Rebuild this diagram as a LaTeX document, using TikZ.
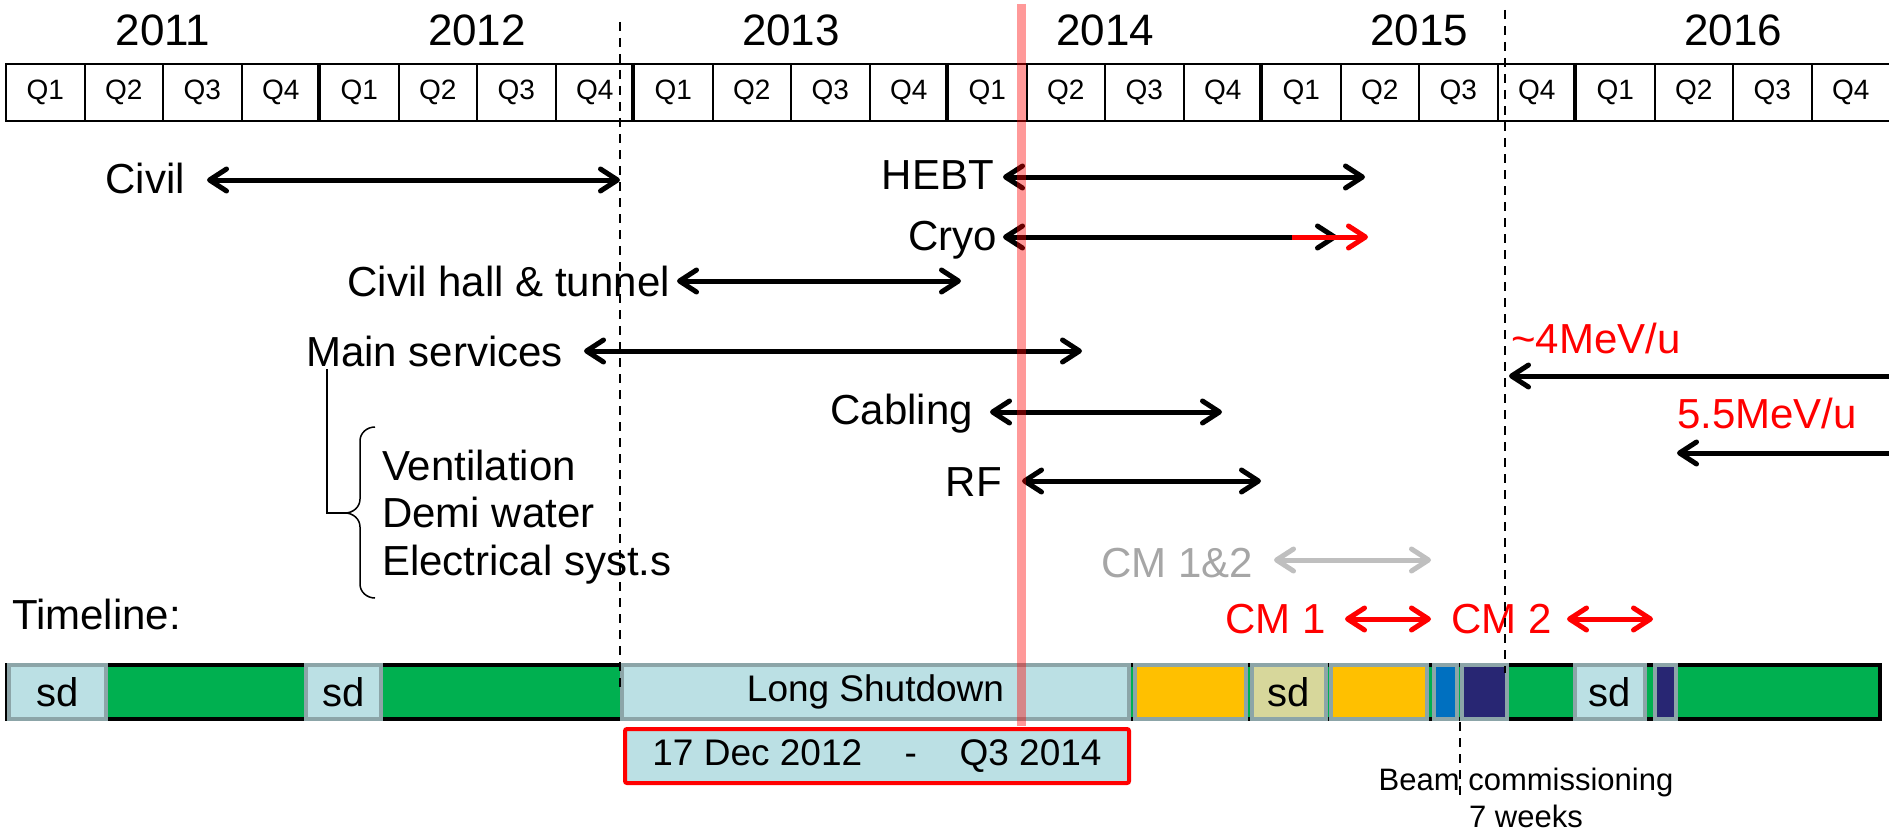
\documentclass[tikz,border=0pt]{standalone}
\usepackage{fontspec}
\setmainfont{Liberation Sans}
\usetikzlibrary{arrows.meta,positioning}
\definecolor{sdblue}{RGB}{187,224,228}
\definecolor{sdedge}{RGB}{140,165,168}
\definecolor{runGreen}{RGB}{0,176,80}
\definecolor{sdkhaki}{RGB}{215,215,155}
\definecolor{prepOrange}{RGB}{255,192,0}
\definecolor{beamBlue}{RGB}{0,112,192}
\definecolor{beamNavy}{RGB}{40,38,115}
\definecolor{cmGrey}{RGB}{191,191,191}
\definecolor{cmGreyText}{RGB}{166,166,166}
\begin{document}
\begin{tikzpicture}[x=1pt, y=-1pt, >={Straight Barb[length=17pt,width=22pt,round]}]
	\tikzstyle{lbl}     = [inner sep=0pt, text height=30pt, text depth=0pt, font=\fontsize{42}{50}\selectfont]
	\tikzstyle{yearlbl} = [inner sep=0pt, font=\fontsize{44}{52}\selectfont]
	\tikzstyle{qcell}   = [draw, line width=2pt, minimum width=78.5pt, minimum height=57pt, inner sep=0pt, font=\fontsize{28}{32}\selectfont]
	\tikzstyle{both}    = [line width=5pt, <->]
	\tikzstyle{fwd}     = [line width=5pt, ->]
	\tikzstyle{guide}   = [line width=2pt, dash pattern=on 9pt off 7pt]
	\tikzstyle{seg}     = [draw=sdedge, line width=4pt, minimum height=54pt, inner sep=0pt, font=\fontsize{40}{48}\selectfont]

	\useasboundingbox (0,0) rectangle (1889,832);
%	\draw[step=100, gray!50] (0,0) grid (1889,832);

	% quarters and years
	\foreach \i in {0,...,23} {
		\pgfmathtruncatemacro{\q}{mod(\i,4)+1}
		\node[qcell] (q\i) at (45.25+78.5*\i, 92.5) {Q\q};
	}
	\foreach \i in {4,8,...,20}
		\draw[line width=4pt] (q\i.north west) -- (q\i.south west);
	\foreach \yr [count=\k from 0] in {2011,...,2016}
		\node[yearlbl] (y\yr) at (163+314*\k, 30) {\yr};

	% work packages
	\foreach \name/\txt/\tx/\ty/\xa/\xb/\ay in {civil/Civil/185/178/207/620/180, hebt/HEBT/994/174/1003/1365/177, cryo/Cryo/997/235/1003/1337/237, hall/{Civil hall \& tunnel}/670/281/677/961/281, mainsvc/{Main services}/563/351/584/1082/351, cabling/Cabling/973/409/990/1222/412, rf/RF/1002/481/1022/1261/481} {
		\node[lbl, anchor=east] (\name) at (\tx,\ty) {\txt};
		\coordinate (\name-a) at (\xa,\ay);
		\coordinate (\name-b) at (\xb,\ay);
		\draw[both] (\name-a) -- (\name-b);
	}
	\coordinate (cryo-r) at (1292,237);
	\coordinate (cryo-c) at (1368,237);
	\draw[fwd, red] (cryo-r) -- (cryo-c);

	% services brace
	\coordinate (bracetip) at (345,513);
	\draw[line width=1.5pt] ([xshift=21pt,yshift=-3pt]mainsvc.south west) |- (bracetip);
	\draw[line width=1.5pt] (375,427) to[out=180,in=90] (360,441) -- (360,499) to[out=-90,in=0] (bracetip)
		to[out=0,in=90] (360,527) -- (360,584) to[out=-90,in=180] (375,598);
	\foreach \name/\txt/\y in {vent/Ventilation/465, demi/{Demi water}/512, elec/{Electrical syst.s}/560}
		\node[lbl, anchor=west] (\name) at (382,\y) {\txt};

	\node[lbl, anchor=west] (timeline) at (12,614) {Timeline:};

	% energies
	\node[lbl, anchor=west, red] (mev4) at (1511,338) {\textasciitilde 4MeV/u};
	\coordinate (mev4-a) at (1509,376);
	\coordinate (mev4-b) at (1900,376);
	\draw[fwd] (mev4-b) -- (mev4-a);
	\node[lbl, anchor=west, red] (mev55) at (1677,413) {5.5MeV/u};
	\coordinate (mev55-a) at (1677,453);
	\coordinate (mev55-b) at (1900,453);
	\draw[fwd] (mev55-b) -- (mev55-a);

	% cryomodules
	\node[lbl, anchor=east, cmGreyText] (cm12) at (1253,562) {CM 1\&2};
	\coordinate (cm12-a) at (1274,560);
	\coordinate (cm12-b) at (1431,560);
	\draw[both, cmGrey] (cm12-a) -- (cm12-b);
	\foreach \name/\txt/\tx/\xa/\xb in {cm1/CM 1/1326/1345/1431, cm2/CM 2/1552/1567/1653} {
		\node[lbl, anchor=east, red] (\name) at (\tx,618) {\txt};
		\coordinate (\name-a) at (\xa,619);
		\coordinate (\name-b) at (\xb,619);
		\draw[both, red] (\name-a) -- (\name-b);
	}

	% running bar
	\node[draw, line width=4pt, fill=runGreen, minimum width=1873pt, minimum height=54pt, inner sep=0pt] (bar) at (943.5,692) {};
	\foreach \name/\xc/\w/\col/\txt in {sdA/57.5/97/sdblue/sd, sdB/343.5/75/sdblue/sd, prepA/1190.5/111/prepOrange/{}, sdC/1289/74/sdkhaki/sd, prepB/1379/96/prepOrange/{}, beamA/1445.5/23/beamBlue/{}, beamB/1484.5/45/beamNavy/{}, sdD/1610/70/sdblue/sd, beamC/1665.5/21/beamNavy/{}}
		\node[seg, fill=\col, minimum width=\w] (\name) at (\xc,692) {\txt};
	\node[seg, fill=sdblue, minimum width=507, font=\fontsize{37}{42}\selectfont] (ls) at (875.5,692) {Long Shutdown};
	\node[draw=red, line width=4pt, fill=sdblue, rounded corners=2pt, minimum width=504pt, minimum height=54pt, inner sep=0pt, font=\fontsize{37}{42}\selectfont] (lsdate) at (877,756) {17 Dec 2012\hspace{1.15em}-\hspace{1.15em}Q3 2014};

	% guide lines
	\coordinate (ls-top) at (620,22);
	\coordinate (ls-bot) at (620,687);
	\draw[guide] (ls-top) -- (ls-bot);
	\coordinate (run-top) at (1505,10);
	\coordinate (run-bot) at (1505,673);
	\draw[guide] (run-top) -- (run-bot);
	\coordinate (bc-top) at (1460,722);
	\coordinate (bc-bot) at (1460,798);
	\draw[guide] (bc-top) -- (bc-bot);
	\node[inner sep=0pt, align=center, anchor=north, font=\fontsize{31}{37}\selectfont] (bcnote) at (1526,768) {Beam commissioning\\7 weeks};

	% today
	\coordinate (now-top) at (1021,4);
	\coordinate (now-bot) at (1021,726);
	\draw[line width=9pt, red, opacity=0.4] (now-top) -- (now-bot);
\end{tikzpicture}
\end{document}
